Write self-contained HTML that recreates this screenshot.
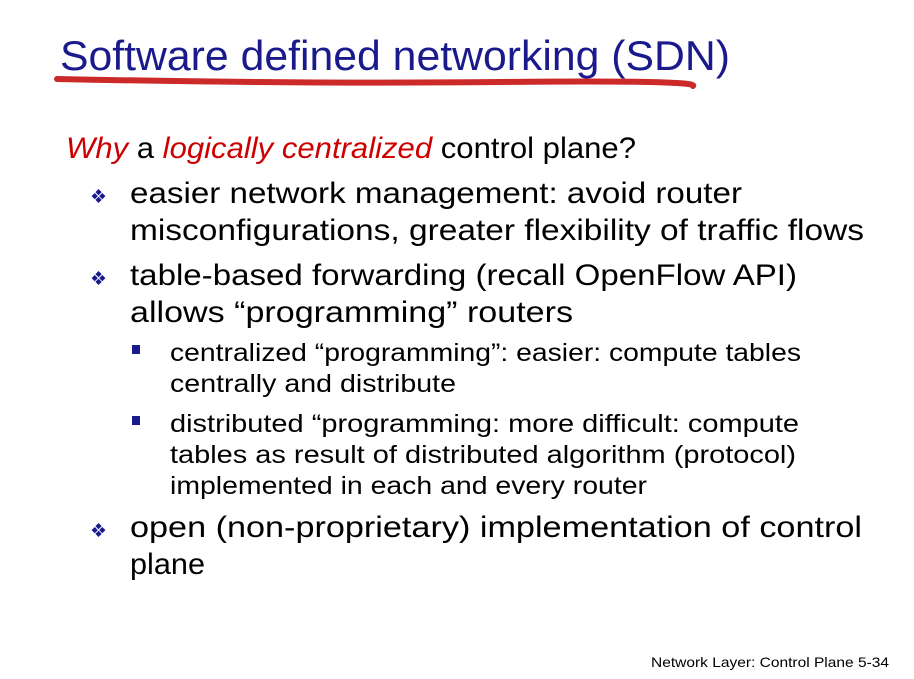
<!DOCTYPE html>
<html><head><meta charset="utf-8"><style>html,body{margin:0;padding:0;background:#fff}svg{display:block}</style></head>
<body>
<svg width="914" height="679" viewBox="0 0 914 679" xmlns="http://www.w3.org/2000/svg" font-family="Liberation Sans, sans-serif">
<rect width="914" height="679" fill="#fff"/>
<text x="60" y="70" font-size="42" fill="#1a1a8c" textLength="670" lengthAdjust="spacingAndGlyphs">Software defined networking (SDN)</text>
<path d="M57 79 Q300 84 500 82 T693 86" stroke="#cc2929" stroke-width="6" fill="none" stroke-linecap="round"/>
<text x="66" y="158" font-size="30" textLength="570" lengthAdjust="spacingAndGlyphs"><tspan fill="#cc0000" font-style="italic">Why</tspan> a <tspan fill="#cc0000" font-style="italic">logically centralized</tspan> control plane?</text>
<g fill="#1a1a8c" font-size="19">
<text x="90" y="203">❖</text><text x="90" y="285">❖</text><text x="90" y="537">❖</text>
</g>
<g fill="#000" font-size="30">
<text x="130" y="203" textLength="612" lengthAdjust="spacingAndGlyphs">easier network management: avoid router</text>
<text x="130" y="240" textLength="734" lengthAdjust="spacingAndGlyphs">misconfigurations, greater flexibility of traffic flows</text>
<text x="130" y="285" textLength="667" lengthAdjust="spacingAndGlyphs">table-based forwarding (recall OpenFlow API)</text>
<text x="130" y="322" textLength="443" lengthAdjust="spacingAndGlyphs">allows “programming” routers</text>
<text x="130" y="537" textLength="732" lengthAdjust="spacingAndGlyphs">open (non-proprietary) implementation of control</text>
<text x="130" y="574" textLength="75" lengthAdjust="spacingAndGlyphs">plane</text>
</g>
<rect x="132" y="345" width="8" height="9" fill="#1a1a8c"/>
<rect x="132" y="416" width="8" height="9" fill="#1a1a8c"/>
<g fill="#000" font-size="25">
<text x="170" y="361" textLength="631" lengthAdjust="spacingAndGlyphs">centralized “programming”: easier: compute tables</text>
<text x="170" y="392" textLength="286" lengthAdjust="spacingAndGlyphs">centrally and distribute</text>
<text x="170" y="432" textLength="629" lengthAdjust="spacingAndGlyphs">distributed “programming: more difficult: compute</text>
<text x="170" y="463" textLength="626" lengthAdjust="spacingAndGlyphs">tables as result of distributed algorithm (protocol)</text>
<text x="170" y="494" textLength="477" lengthAdjust="spacingAndGlyphs">implemented in each and every router</text>
</g>
<text x="651" y="667" font-size="14" fill="#000" textLength="238" lengthAdjust="spacingAndGlyphs">Network Layer: Control Plane  5-34</text>
</svg>
</body></html>
